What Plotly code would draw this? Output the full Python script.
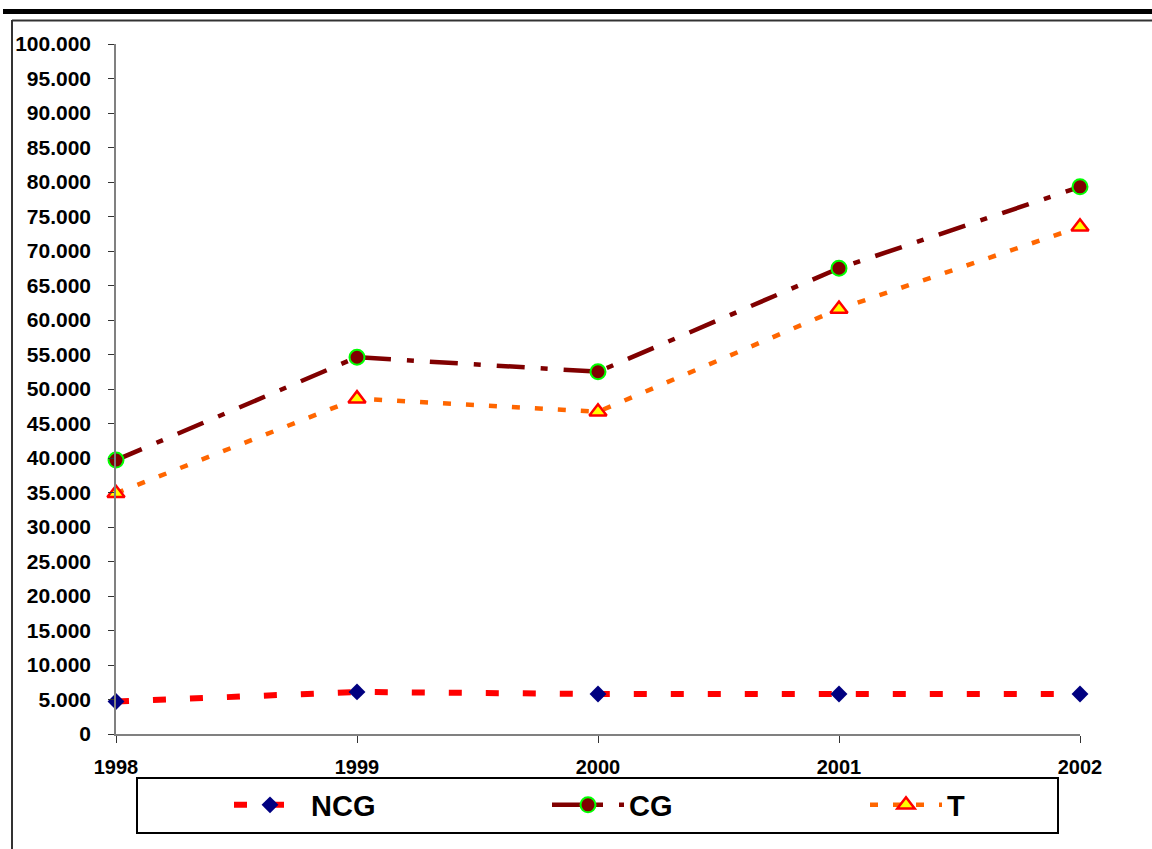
import plotly.graph_objects as go

# Series values by year
years = [1998, 1999, 2000, 2001, 2002]
ncg = [4700, 6100, 5800, 5800, 5800]
cg = [39700, 54600, 52500, 67500, 79300]
t = [34900, 48600, 46700, 61600, 73500]
y_ticks = list(range(0, 100001, 5000))

W, H = 1152, 849
L, R, T, B = 116, 1080, 44, 734  # plot area in pixels


def px(x):
    return (x - L) / (R - L)


def py(y):
    return (B - y) / (B - T)


FONT = "Arial, 'Liberation Sans', sans-serif"

fig = go.Figure()
fig.add_trace(go.Scatter(
    x=years, y=ncg, name="NCG", mode="lines+markers", cliponaxis=False,
    line=dict(color="#FF0000", width=6, dash="13px,24px"),
    marker=dict(symbol="diamond", size=13, color="#000080",
                line=dict(width=0)),
))
fig.add_trace(go.Scatter(
    x=years, y=cg, name="CG", mode="lines+markers", cliponaxis=False,
    line=dict(color="#800000", width=4.5, dash="28px,16px,7px,16px"),
    marker=dict(symbol="circle", size=15, color="#800000",
                line=dict(width=2, color="#00FF00")),
))
fig.add_trace(go.Scatter(
    x=years, y=t, name="T", mode="lines+markers", cliponaxis=False,
    line=dict(color="#FF6600", width=4.5, dash="8px,15px"),
    marker=dict(symbol="triangle-up", size=15, color="#FFFF00",
                line=dict(width=2.5, color="#FF0000")),
))

shapes = [
    # heavy rule across the top
    dict(type="line", xref="paper", yref="paper",
         x0=px(3), x1=px(1160), y0=py(11.5), y1=py(11.5),
         line=dict(color="black", width=5)),
    # chart frame
    dict(type="line", xref="paper", yref="paper",
         x0=px(12), x1=px(1160), y0=py(20.5), y1=py(20.5),
         line=dict(color="#333333", width=2)),
    dict(type="line", xref="paper", yref="paper",
         x0=px(12), x1=px(12), y0=py(20), y1=py(870),
         line=dict(color="#333333", width=2)),
    # legend box
    dict(type="rect", xref="paper", yref="paper",
         x0=px(137), x1=px(1058), y0=py(778), y1=py(833),
         line=dict(color="black", width=2), fillcolor="rgba(0,0,0,0)"),
]

fig.update_layout(
    width=W, height=H,
    margin=dict(l=L, r=W - R, t=T, b=H - B, pad=0, autoexpand=False),
    paper_bgcolor="white", plot_bgcolor="white",
    separators=",.",
    font=dict(family=FONT, color="black"),
    shapes=shapes,
    showlegend=True,
    legend=dict(
        orientation="h", x=px(229), xanchor="left", y=py(805), yanchor="middle",
        bgcolor="rgba(0,0,0,0)", borderwidth=0,
        font=dict(family=FONT, size=29, color="black", weight="bold"),
        itemwidth=72, entrywidth=231, entrywidthmode="pixels",
        traceorder="normal",
    ),
    xaxis=dict(
        range=[1998, 2002], tickvals=years, ticktext=[str(y) for y in years],
        showline=True, linecolor="#808080", linewidth=1.5,
        ticks="outside", ticklen=7, tickcolor="#333333", tickwidth=1.2,
        ticklabelstandoff=7,
        tickfont=dict(family=FONT, size=20, color="black", weight="bold"),
        showgrid=False, zeroline=False,
    ),
    yaxis=dict(
        range=[0, 100000], tickvals=y_ticks, tickformat=",d",
        showline=True, linecolor="#808080", linewidth=1.5,
        ticks="outside", ticklen=6, tickcolor="#333333", tickwidth=1.2,
        ticklabelstandoff=13,
        tickfont=dict(family=FONT, size=21, color="black", weight="bold"),
        showgrid=False, zeroline=False,
    ),
)

fig.write_html("out.html")
